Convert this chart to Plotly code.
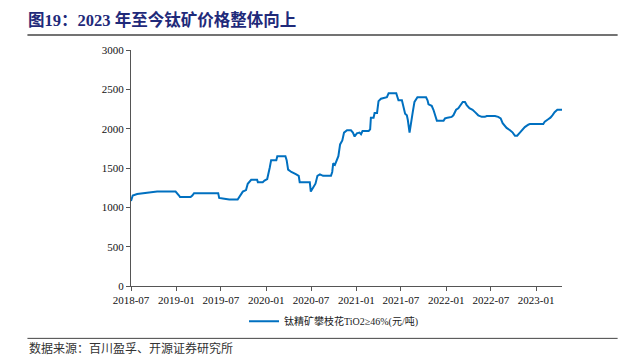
import plotly.graph_objects as go

dates = [
    "2018-07-01", "2018-07-08", "2018-07-26", "2018-10-15", "2018-12-29", "2019-01-05",
    "2019-01-12", "2019-01-16", "2019-02-28", "2019-03-07", "2019-03-14", "2019-06-20",
    "2019-06-24", "2019-07-15", "2019-08-04", "2019-09-07", "2019-09-18", "2019-09-28",
    "2019-10-11", "2019-10-18", "2019-11-01", "2019-11-25", "2019-11-28", "2019-12-18",
    "2019-12-25", "2020-01-05", "2020-01-15", "2020-01-21", "2020-02-11", "2020-02-15",
    "2020-03-19", "2020-03-24", "2020-03-30", "2020-04-12", "2020-05-02", "2020-05-12",
    "2020-05-16", "2020-06-26", "2020-06-30", "2020-07-10", "2020-07-19", "2020-07-27",
    "2020-08-06", "2020-08-19", "2020-09-20", "2020-09-25", "2020-09-29", "2020-10-06",
    "2020-10-14", "2020-10-20", "2020-10-27", "2020-11-05", "2020-11-12", "2020-11-24",
    "2020-12-10", "2020-12-18", "2020-12-25", "2021-01-03", "2021-01-14", "2021-01-20",
    "2021-01-26", "2021-02-20", "2021-02-26", "2021-03-01", "2021-03-12", "2021-03-16",
    "2021-03-26", "2021-04-01", "2021-04-11", "2021-04-24", "2021-05-05", "2021-05-12",
    "2021-06-12", "2021-06-17", "2021-06-21", "2021-07-05", "2021-07-12", "2021-07-18",
    "2021-07-25", "2021-07-29", "2021-08-05", "2021-08-10", "2021-08-18", "2021-08-25",
    "2021-09-06", "2021-10-11", "2021-10-17", "2021-10-21", "2021-11-03", "2021-11-10",
    "2021-11-21", "2021-11-24", "2021-12-21", "2021-12-27", "2022-01-06", "2022-01-23",
    "2022-01-30", "2022-02-10", "2022-02-19", "2022-03-01", "2022-03-09", "2022-03-18",
    "2022-03-25", "2022-04-05", "2022-04-18", "2022-04-28", "2022-05-11", "2022-05-25",
    "2022-06-07", "2022-06-14", "2022-07-18", "2022-07-31", "2022-08-10", "2022-08-18",
    "2022-08-27", "2022-09-03", "2022-09-17", "2022-09-28", "2022-10-07", "2022-10-16",
    "2022-10-27", "2022-11-07", "2022-11-16", "2022-11-30", "2022-12-07", "2023-01-30",
    "2023-02-05", "2023-02-19", "2023-02-28", "2023-03-08", "2023-03-17", "2023-03-28",
    "2023-04-16",
]
prices = [
    1080, 1150, 1170, 1200, 1200, 1180,
    1150, 1130, 1130, 1150, 1180, 1180,
    1120, 1110, 1100, 1100, 1150, 1200,
    1220, 1300, 1350, 1350, 1320, 1320,
    1340, 1360, 1500, 1600, 1600, 1650,
    1650, 1600, 1480, 1450, 1420, 1400,
    1320, 1320, 1200, 1250, 1300, 1400,
    1420, 1400, 1400, 1450, 1560, 1540,
    1600, 1650, 1800, 1850, 1950, 1980,
    1980, 1950, 1900, 1940, 1950, 1930,
    1970, 1970, 1990, 2140, 2140, 2200,
    2200, 2350, 2380, 2390, 2400, 2450,
    2450, 2400, 2360, 2360, 2280, 2190,
    2170, 2110, 1950, 2070, 2210, 2340,
    2400, 2400, 2360, 2310, 2290, 2240,
    2120, 2100, 2100, 2130, 2140, 2150,
    2170, 2240, 2260, 2310, 2340, 2340,
    2300, 2260, 2240, 2210, 2170, 2150,
    2150, 2160, 2160, 2150, 2130, 2070,
    2040, 2010, 1980, 1950, 1910, 1910,
    1950, 1990, 2020, 2050, 2060, 2060,
    2090, 2120, 2140, 2170, 2210, 2240,
    2240,
]
series_name = "钛精矿攀枝花TiO2≥46%(元/吨)"
tick_dates = ["2018-07-01", "2019-01-01", "2019-07-01", "2020-01-01", "2020-07-01",
              "2021-01-01", "2021-07-01", "2022-01-01", "2022-07-01", "2023-01-01"]
tick_labels = ["2018-07", "2019-01", "2019-07", "2020-01", "2020-07",
               "2021-01", "2021-07", "2022-01", "2022-07", "2023-01"]
y_ticks = [0, 500, 1000, 1500, 2000, 2500, 3000]

title_text = "图19：2023 年至今钛矿价格整体向上"
source_text = "数据来源：百川盈孚、开源证券研究所"

W, H = 627, 355
L, R, T, B = 130.7, 64.7, 50, 69.3
pw, ph = W - L - R, H - T - B

def px(x):
    return (x - L) / pw

def py(y):
    return (H - B - y) / ph

serif = "Liberation Serif, Times New Roman, Noto Sans CJK SC, serif"

fig = go.Figure()
fig.add_trace(go.Scatter(
    x=dates, y=prices, mode="lines", name=series_name,
    line=dict(color="#0070C0", width=2),
))

fig.update_layout(
    width=W, height=H,
    margin=dict(l=L, r=R, t=T, b=B, autoexpand=False),
    paper_bgcolor="white", plot_bgcolor="white",
    font=dict(family=serif, size=11, color="#222222"),
    showlegend=True,
    legend=dict(
        x=px(334), y=py(321), xanchor="center", yanchor="middle",
        orientation="h", font=dict(size=10, family=serif, color="#222222"),
        itemwidth=30, bgcolor="rgba(0,0,0,0)",
    ),
    title=dict(
        text=title_text, xref="container", yref="container",
        x=28 / W, xanchor="left", y=1 - 20 / H, yanchor="middle",
        font=dict(family="Liberation Serif, Noto Sans CJK SC, serif", size=16.5,
                  color="#1F2A7A", weight="bold"),
    ),
    xaxis=dict(
        type="date", range=["2018-07-01", "2023-04-16"],
        tickvals=tick_dates, ticktext=tick_labels,
        ticks="outside", ticklen=4, tickcolor="#555555",
        showline=True, linecolor="#555555", linewidth=1,
        showgrid=False, zeroline=False,
        tickfont=dict(size=11, family=serif, color="#111111"),
    ),
    yaxis=dict(
        range=[0, 3000], tickvals=y_ticks,
        ticks="outside", ticklen=4, tickcolor="#555555",
        showline=True, linecolor="#555555", linewidth=1,
        showgrid=False, zeroline=False,
        tickfont=dict(size=11, family=serif, color="#111111"),
    ),
    shapes=[
        dict(type="line", xref="paper", yref="paper",
             x0=px(27), x1=px(618), y0=py(35), y1=py(35),
             line=dict(color="#444444", width=1.5)),
        dict(type="line", xref="paper", yref="paper",
             x0=px(27), x1=px(618), y0=py(338), y1=py(338),
             line=dict(color="#444444", width=1)),
    ],
    annotations=[
        dict(text=source_text, xref="paper", yref="paper",
             x=px(27), y=py(346.8), xanchor="left", yanchor="middle",
             showarrow=False,
             font=dict(size=12, family="Noto Sans CJK SC, serif", color="#333333")),
    ],
)

fig.write_html(
    "out.html",
    config={"displayModeBar": False},
    post_script="document.body.style.margin='0px';document.body.style.overflow='hidden';",
)
